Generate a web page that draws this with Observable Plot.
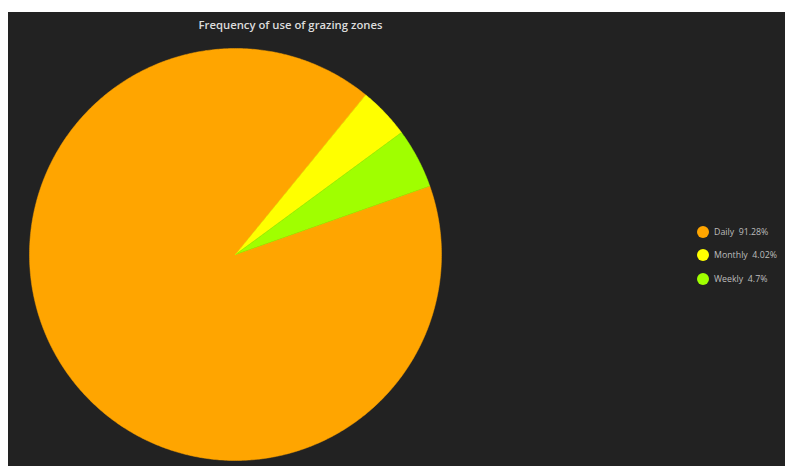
<!DOCTYPE html>
<html><head><meta charset="utf-8">
<script src="https://cdn.jsdelivr.net/npm/d3@7"></script>
<script src="https://cdn.jsdelivr.net/npm/@observablehq/plot@0.6"></script>
<style>
html,body{margin:0;padding:0;background:#fff;width:785px;height:466px;overflow:hidden;font-family:"Open Sans",Lato,sans-serif;}
#wrap{position:absolute;left:8px;top:12px;width:777px;height:454px;background:#222222;}
#legend{position:absolute;left:689px;top:208px;font-size:8.8px;color:#bdbdbd;}
.item{display:flex;align-items:center;height:23.5px;}
.sw{width:12px;height:12px;border-radius:50%;margin-right:5px;}
</style></head>
<body><div id="wrap"><div id="chart"></div><div id="legend"></div></div>
<script>
const categories = ["Daily", "Monthly", "Weekly"];
const shares = [91.28, 4.02, 4.7];
const labels = ["Daily  91.28%", "Monthly  4.02%", "Weekly  4.7%"];
const colors = ["#FFA500", "#FFFF00", "#A0FF00"];
const title = "Frequency of use of grazing zones";

const startDeg = 70.6;
const total = d3.sum(shares);
const pts = [];
let acc = 0;
categories.forEach((c, i) => {
  const a0 = startDeg + acc / total * 360;
  acc += shares[i];
  const a1 = startDeg + acc / total * 360;
  pts.push({cat: c, x: 0, y: 0});
  const n = Math.max(2, Math.ceil((a1 - a0) / 0.5));
  for (let k = 0; k <= n; k++) {
    const a = (a0 + (a1 - a0) * k / n) * Math.PI / 180;
    pts.push({cat: c, x: Math.sin(a), y: Math.cos(a)});
  }
  pts.push({cat: c, x: 0, y: 0});
});

const cx = 227, cy = 242, r = 206;
const chart = Plot.plot({
  width: 777, height: 454, margin: 0,
  style: {background: "transparent"},
  x: {domain: [-1, 1], range: [cx - r, cx + r], axis: null},
  y: {domain: [-1, 1], range: [cy + r, cy - r], axis: null},
  color: {domain: categories, range: colors},
  marks: [
    Plot.line(pts, {x: "x", y: "y", z: "cat", fill: "cat", stroke: "cat", strokeWidth: 0.5}),
    Plot.text([title], {text: d => d, frameAnchor: "top-left", textAnchor: "middle", dx: 282, dy: 8, fill: "#dcdcdc", fontSize: 11.3, fontWeight: 600, fontFamily: "Open Sans"})
  ]
});
document.getElementById("chart").appendChild(chart);

const leg = d3.select("#legend");
categories.forEach((c, i) => {
  const it = leg.append("div").attr("class", "item");
  it.append("div").attr("class", "sw").style("background", colors[i]);
  it.append("span").text(labels[i]).style("white-space", "pre");
});
</script></body></html>
